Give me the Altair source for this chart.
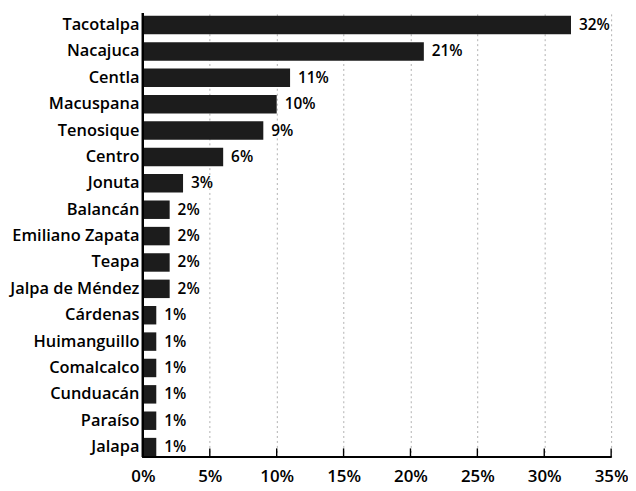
import altair as alt
import pandas as pd

municipios = ["Tacotalpa", "Nacajuca", "Centla", "Macuspana", "Tenosique", "Centro",
              "Jonuta", "Balancán", "Emiliano Zapata", "Teapa", "Jalpa de Méndez",
              "Cárdenas", "Huimanguillo", "Comalcalco", "Cunduacán", "Paraíso", "Jalapa"]
porcentajes = [32, 21, 11, 10, 9, 6, 3, 2, 2, 2, 2, 1, 1, 1, 1, 1, 1]
ticks = [0, 5, 10, 15, 20, 25, 30, 35]

df = pd.DataFrame({"mun": municipios, "pct": porcentajes})
df["label"] = df["pct"].astype(str) + "%"
tdf = pd.DataFrame({"t": ticks[1:]})

FONT = "Open Sans"
W, H = 472, 448

xscale = alt.Scale(domain=[0, 35], nice=False)
yscale = alt.Scale(paddingInner=0.30, paddingOuter=0.075, align=0.75)

bars = alt.Chart(df).mark_bar(color="#1c1c1c").encode(
    x=alt.X("pct:Q", scale=xscale,
            axis=alt.Axis(values=ticks, labelExpr="datum.value + '%'", title=None,
                          grid=True, gridDash=[2, 3], gridColor="#b0b0b0", gridWidth=1,
                          domain=False, ticks=False, labelFlush=False,
                          labelFont=FONT, labelFontSize=17, labelFontWeight=600,
                          labelColor="black", labelPadding=11)),
    y=alt.Y("mun:N", sort=municipios, scale=yscale,
            axis=alt.Axis(title=None, ticks=False, domain=False,
                          labelFont=FONT, labelFontSize=16.5, labelFontWeight=600,
                          labelColor="black", labelPadding=4)),
)

text = alt.Chart(df).mark_text(align="left", baseline="middle", dx=8,
                               font=FONT, fontSize=15.5, fontWeight=600, color="black").encode(
    x=alt.X("pct:Q", scale=xscale),
    y=alt.Y("mun:N", sort=municipios),
    text="label:N",
)

tickmarks = alt.Chart(tdf).mark_rule(color="black", strokeWidth=1.4).encode(
    x=alt.X("t:Q", scale=xscale),
    y=alt.value(H),
    y2=alt.value(H - 9),
)

xline = alt.Chart(tdf).mark_rule(color="black", strokeWidth=1.6).encode(
    x=alt.value(0), x2=alt.value(W), y=alt.value(H)
)
yline = alt.Chart(tdf).mark_rule(color="black", strokeWidth=2).encode(
    x=alt.value(0), y=alt.value(0), y2=alt.value(H)
)

chart = alt.layer(bars, text, tickmarks, xline, yline).properties(
    width=W, height=H,
    autosize=alt.AutoSizeParams(type="none"),
    padding={"left": 136, "top": 3, "right": 17, "bottom": 30},
    background="white",
).configure_view(strokeWidth=0)

chart.save("out.html", embed_options={"renderer": "svg", "actions": False})
